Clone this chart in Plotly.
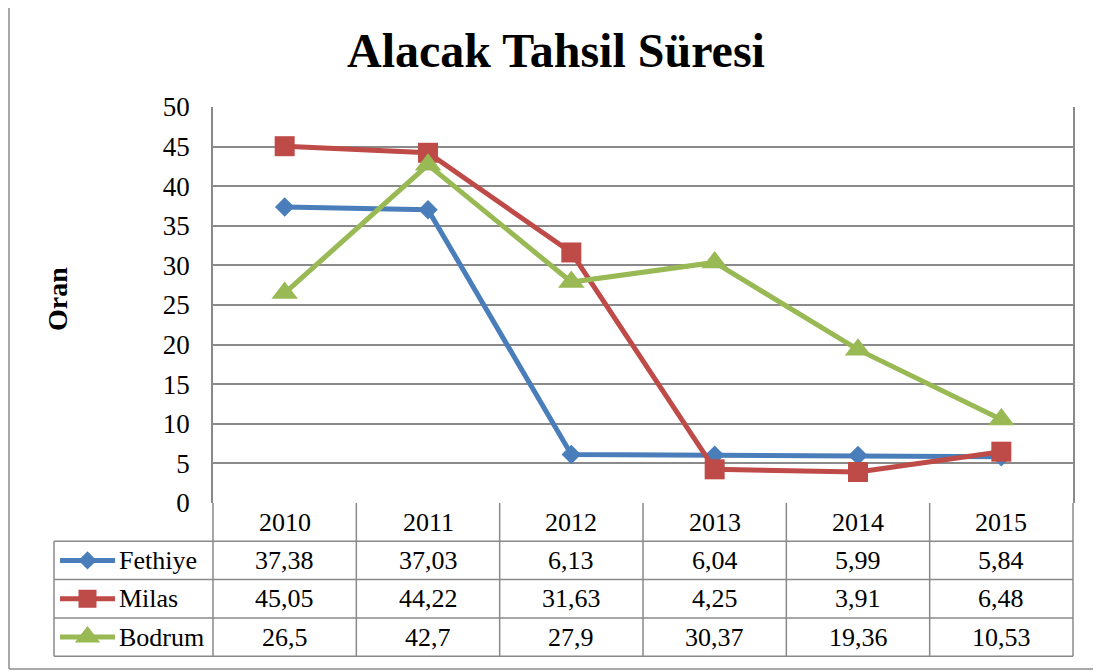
import plotly.graph_objects as go

years = ["2010", "2011", "2012", "2013", "2014", "2015"]
fethiye = [37.38, 37.03, 6.13, 6.04, 5.99, 5.84]
milas = [45.05, 44.22, 31.63, 4.25, 3.91, 6.48]
bodrum = [26.5, 42.7, 27.9, 30.37, 19.36, 10.53]
series_names = ["Fethiye", "Milas", "Bodrum"]
series_values = [fethiye, milas, bodrum]
colors = ["#4A7EBB", "#BE4B48", "#98B954"]
symbols = ["diamond", "square", "triangle-up"]
msizes = [15, 20, 23]
key_sizes = [14, 18, 22]

W, H = 1101, 672
OFF = 8                    # page body margin
PX0, PX1 = 213, 1073       # plot area left/right (screen px)
PY0, PY1 = 107, 503        # plot area top/bottom (screen px)
ROW_H = 38.3
TABLE_LEFT = 54
FONT = "Liberation Serif, Times New Roman, DejaVu Serif, serif"
GRID = "#8A8A8A"


def px(x):
    return (x - OFF) / W


def py(y):
    return 1 - (y - OFF) / H


def fmt(v):
    return f"{v:g}".replace(".", ",")


fig = go.Figure()
idx = list(range(len(years)))
for name, vals, c, s, ms in zip(series_names, series_values, colors, symbols, msizes):
    fig.add_trace(go.Scatter(
        x=idx, y=vals, mode="lines+markers", name=name,
        line=dict(color=c, width=5),
        marker=dict(symbol=s, size=ms, color=c, line=dict(width=0)),
        showlegend=False, cliponaxis=False,
    ))

# legend keys in table (separate full-figure pixel subplot)
for i, (name, c, s, ms) in enumerate(zip(series_names, colors, symbols, key_sizes)):
    yc = PY1 + ROW_H * (i + 1.5)
    fig.add_trace(go.Scatter(
        x=[60 - OFF, 115 - OFF], y=[yc - OFF, yc - OFF], mode="lines", xaxis="x2", yaxis="y2",
        line=dict(color=c, width=5), showlegend=False, hoverinfo="skip"))
    fig.add_trace(go.Scatter(
        x=[87.5 - OFF], y=[yc - OFF], mode="markers", xaxis="x2", yaxis="y2",
        marker=dict(symbol=s, size=ms, color=c), showlegend=False, hoverinfo="skip"))
    fig.add_annotation(x=px(117), y=py(yc), xref="paper", yref="paper",
                       text=name, showarrow=False, xanchor="left", yanchor="middle",
                       font=dict(family=FONT, size=26, color="black"))

shapes = []
line_style = dict(color=GRID, width=1.5)
table_bottom = PY1 + ROW_H * 4
col_w = (PX1 - PX0) / len(years)
for k in range(len(years) + 1):
    xk = PX0 + col_w * k
    shapes.append(dict(type="line", xref="paper", yref="paper",
                       x0=px(xk), x1=px(xk), y0=py(PY1), y1=py(table_bottom), line=line_style))
for r in range(1, 5):
    yr = PY1 + ROW_H * r
    shapes.append(dict(type="line", xref="paper", yref="paper",
                       x0=px(TABLE_LEFT), x1=px(PX1), y0=py(yr), y1=py(yr), line=line_style))
shapes.append(dict(type="line", xref="paper", yref="paper",
                   x0=px(TABLE_LEFT), x1=px(TABLE_LEFT), y0=py(PY1 + ROW_H), y1=py(table_bottom),
                   line=line_style))
# outer frame (left + bottom)
frame = dict(color="#8C8C8C", width=1.5)
shapes.append(dict(type="line", xref="paper", yref="paper",
                   x0=px(9), x1=px(9), y0=1.0, y1=py(669), line=frame))
shapes.append(dict(type="line", xref="paper", yref="paper",
                   x0=px(9), x1=1.0, y0=py(669), y1=py(669), line=frame))

# table text
for j, yv in enumerate(years):
    fig.add_annotation(x=j, y=py(PY1 + ROW_H * 0.5), xref="x", yref="paper", text=yv,
                       showarrow=False, yanchor="middle",
                       font=dict(family=FONT, size=26, color="black"))
    for i, vals in enumerate(series_values):
        fig.add_annotation(x=j, y=py(PY1 + ROW_H * (i + 1.5)), xref="x", yref="paper",
                           text=fmt(vals[j]), showarrow=False, yanchor="middle",
                           font=dict(family=FONT, size=26, color="black"))

fig.add_annotation(x=px(556), y=py(50), xref="paper", yref="paper",
                   text="<b>Alacak Tahsil Süresi</b>", showarrow=False,
                   xanchor="center", yanchor="middle",
                   font=dict(family=FONT, size=48, color="black"))
fig.add_annotation(x=px(57), y=py(299), xref="paper", yref="paper",
                   text="<b>Oran</b>", showarrow=False, textangle=-90,
                   xanchor="center", yanchor="middle",
                   font=dict(family=FONT, size=28, color="black"))

fig.update_layout(
    width=W, height=H, autosize=False, margin=dict(l=0, r=0, t=0, b=0, pad=0),
    paper_bgcolor="white", plot_bgcolor="rgba(0,0,0,0)",
    font=dict(family=FONT),
    shapes=shapes,
    xaxis=dict(domain=[px(PX0), px(PX1)], range=[-0.5, len(years) - 0.5],
               showticklabels=False, showgrid=False, zeroline=False,
               showline=False, fixedrange=True, automargin=False),
    yaxis=dict(domain=[py(PY1), py(PY0)], range=[0, 50], dtick=5,
               showgrid=True, gridcolor=GRID, gridwidth=1.5, zeroline=False,
               showline=True, linecolor=GRID, linewidth=1.5, mirror=True,
               ticks="outside", ticklen=0, ticklabelstandoff=16, automargin=False,
               tickfont=dict(family=FONT, size=27, color="black")),
    xaxis2=dict(domain=[0, 1], range=[0, W], visible=False, anchor="y2", automargin=False),
    yaxis2=dict(domain=[0, 1], range=[H, 0], visible=False, anchor="x2", automargin=False),
)

fig.write_html("out.html")
